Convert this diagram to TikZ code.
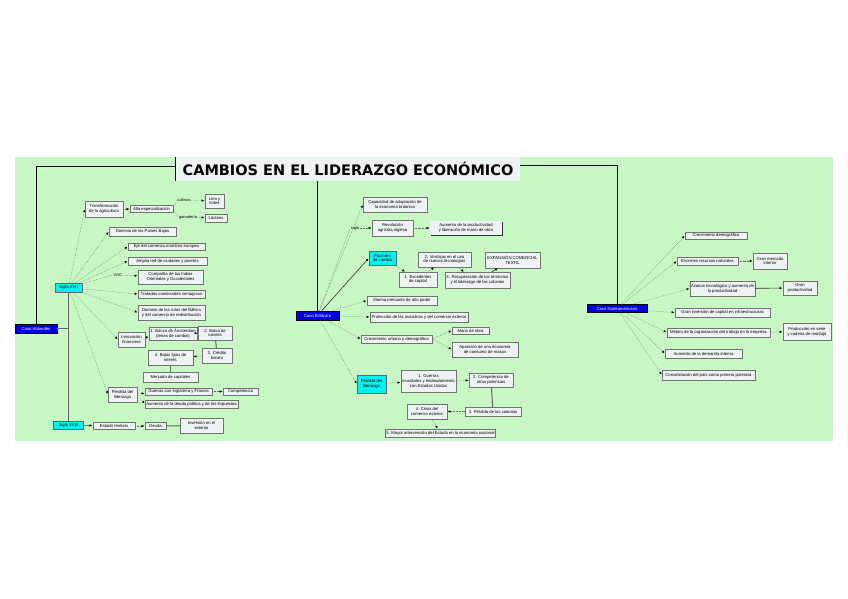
\documentclass[tikz,border=0pt]{standalone}
\usepackage{fontspec}
\setmainfont{Liberation Sans}
\setsansfont{Liberation Sans}
\newfontfamily\titlefont{DejaVu Sans}
\usepackage{tikz}
\usetikzlibrary{arrows.meta,positioning,shadows}
\definecolor{mapBg}{HTML}{C8F8C4}
\definecolor{topicFill}{HTML}{EEF3F4}
\definecolor{casoFill}{HTML}{0000E0}
\definecolor{sigloFill}{HTML}{00F2F2}
\definecolor{linkGray}{HTML}{66706A}
\tikzset{
  topic/.style={
    rectangle, fill=topicFill, draw=black!55, line width=0.3pt,
    drop shadow={shadow xshift=0.6pt,shadow yshift=-0.6pt,fill=black!80,opacity=1},
    align=center, font=\fontsize{4.2}{4.8}\selectfont,
    inner sep=1pt
  },
  caso/.style={topic, fill=casoFill, text=white, draw=black, line width=0.6pt},
  siglo/.style={topic, fill=sigloFill, draw=black!60},
  tag/.style={font=\fontsize{4}{4.6}\selectfont, inner sep=0.5pt},
  link/.style={densely dotted, draw=linkGray, line width=0.45pt, shorten >=0.8pt,
    -{Triangle[length=2.4pt,width=2.2pt,color=black]}},
  bond/.style={link, solid, draw=black!80, line width=0.6pt},
  stem/.style={draw=black!60, line width=1pt},
  trunk/.style={draw=black, line width=0.9pt}
}

\begin{document}
\begin{tikzpicture}[x=1pt,y=-1pt]
  \useasboundingbox (0,0) rectangle (848,599);
  \fill[white] (0,0) rectangle (848,599);
  \fill[mapBg] (15,157) rectangle (833,441);

  % title
  \node[fill=topicFill, minimum width=344, minimum height=24, inner sep=0pt,
        font=\titlefont\bfseries\fontsize{14.5}{16}\selectfont]
        (title) at (348,169) {CAMBIOS EN EL LIDERAZGO ECONÓMICO};
  \draw[trunk] (title.north west) -- (title.south west);

  % ---------------- caso holandes -- left
  \node[caso, minimum width=42, minimum height=9] (hol) at (36,328.5) {Caso Holandés};
  \node[siglo, minimum width=27, minimum height=9] (s17) at (68.5,287.5) {Siglo XVII};
  \node[siglo, minimum width=30, minimum height=8] (s18) at (68.5,425) {Siglo XVIII};

  \node[topic, minimum width=38, minimum height=16] (agri) at (104,209) {Transformación\\de la agricultura};
  \node[topic, minimum width=43, minimum height=7] (espe) at (151.5,209) {Alta especialización};
  \node[tag] (tcul) at (184,200) {cultivos};
  \node[tag] (tgan) at (188,217) {ganadería};
  \node[topic, minimum width=19, minimum height=14] (lino) at (214.5,201) {Lino y\\tintes};
  \node[topic, minimum width=22, minimum height=8] (lact) at (216,218) {Lácteos};
  \node[topic, minimum width=67, minimum height=9] (bajo) at (142.5,231.5) {Dominio de los Países Bajos};
  \node[topic, minimum width=77, minimum height=7] (ejec) at (166.5,246.5) {Eje del comercio marítimo europeo};
  \node[topic, minimum width=79, minimum height=8] (redc) at (167.5,261) {Amplia red de ciudades y puertos};
  \node[tag] (tvoc) at (118,275) {VOC};
  \node[topic, minimum width=65, minimum height=14] (cind) at (170.5,277) {Compañía de las Indias\\Orientales y Occidentales};
  \node[topic, minimum width=67, minimum height=8] (trat) at (171.5,294) {Tratados comerciales ventajosos};
  \node[topic, minimum width=67, minimum height=15] (balt) at (171.5,312.5) {Dominio de las rutas del Báltico\\y del comercio de redistribución};
  \node[topic, minimum width=27, minimum height=15] (finz) at (131.5,339.5) {Innovación\\financiera};
  \node[topic, minimum width=40, minimum height=13] (banc) at (173,333.5) {1. Banco de Ámsterdam\\(letras de cambio)};
  \node[topic, minimum width=34, minimum height=14] (bols) at (215,333) {2. Bolsa de\\valores};
  \node[topic, minimum width=30, minimum height=15] (cred) at (217,355.5) {3. Crédito\\barato};
  \node[topic, minimum width=45, minimum height=15] (tipo) at (170.5,357.5) {4. Bajos tipos de\\interés};
  \node[topic, minimum width=55, minimum height=10] (merc) at (170.5,377) {Mercado de capitales};
  \node[topic, minimum width=29, minimum height=15] (perh) at (122.5,394.5) {Pérdida del\\liderazgo};
  \node[topic, minimum width=67, minimum height=7] (guer) at (178.5,391.5) {Guerras con Inglaterra y Francia};
  \node[topic, minimum width=35, minimum height=7] (comp) at (240.5,391.5) {Competencia};
  \node[topic, minimum width=93, minimum height=8] (deud) at (191.5,404) {Aumento de la deuda pública y de los impuestos};
  \node[topic, minimum width=42, minimum height=7] (rent) at (114,426) {Estado rentista};
  \node[topic, minimum width=21, minimum height=7] (deda) at (155.5,426) {Deuda};
  \node[topic, minimum width=43, minimum height=15] (inve) at (201.5,425.5) {Inversión en el\\exterior};

  \draw[trunk] ([yshift=3pt]title.west) -| (hol.north);
  \draw[stem] (hol.east) -| (s17.south);
  \draw[stem] (s17.south) -- (s18.north);
  \foreach \t in {agri,bajo,ejec,redc,trat,balt,finz,perh}
    \draw[link] (s17) -- (\t.west);
  \draw[link,-] (s17) -- (tvoc.west);
  \draw[link] (tvoc) -- (cind);
  \draw[link] (agri) -- (espe);
  \draw[link,-] (espe.east) -- (tcul.west);
  \draw[link,-] (espe.east) -- (tgan.west);
  \draw[link] (tcul) -- (lino);
  \draw[link] (tgan) -- (lact);
  \draw[link] (finz) -- (banc);
  \draw[link] (banc) -- (bols);
  \draw[stem] (bols) -- (cred);
  \draw[link] (cred) -- (tipo);
  \draw[stem] (tipo) -- (merc);
  \draw[link] (perh) -- (guer);
  \draw[link] (guer) -- (comp);
  \draw[link] (perh.east) -- (deud.west);
  \draw[bond] (s18) -- (rent);
  \draw[link] (rent) -- (deda);
  \draw[stem] (deda) -- (inve);

  % ---------------- caso britanico -- middle
  \node[caso, minimum width=43, minimum height=9] (bri) at (317.5,315.5) {Caso Británico};
  \node[topic, minimum width=64, minimum height=15] (adap) at (395,204.5) {Capacidad de adaptación de\\la economía británica};
  \node[tag] (tsig) at (355,228) {siglo};
  \node[topic, minimum width=41, minimum height=16] (ragr) at (392.5,228) {Revolución\\agrícola inglesa};
  \node[topic, minimum width=72, minimum height=14, draw=none] (prod) at (466,228) {Aumento de la productividad\\y liberación de mano de obra};
  \node[siglo, minimum width=27, minimum height=14] (fact) at (382.5,258) {Factores\\de cambio};
  \node[topic, minimum width=38, minimum height=15] (exce) at (418,279.5) {1. Excedentes\\de capital};
  \node[topic, minimum width=53, minimum height=15] (vent) at (444.5,259.5) {2. Ventajas en el uso\\de nuevas tecnologías};
  \node[topic, minimum width=65, minimum height=16] (recu) at (477.5,280) {3. Recuperación de los territorios\\y el liderazgo de las colonias};
  \node[topic, minimum width=55, minimum height=16] (expa) at (512.5,260) {EXPANSIÓN COMERCIAL\\TEXTIL};
  \node[topic, minimum width=70, minimum height=9] (mari) at (402,300.5) {Marina mercante de alto poder};
  \node[topic, minimum width=98, minimum height=10] (prot) at (419,317) {Protección de las industrias y del comercio exterior};
  \node[topic, minimum width=71, minimum height=8] (urba) at (396.5,339) {Crecimiento urbano y demográfico};
  \node[topic, minimum width=37, minimum height=7] (mano) at (470.5,330.5) {Mano de obra};
  \node[topic, minimum width=66, minimum height=15] (cons) at (485,349.5) {Aparición de una economía\\de consumo de masas};
  \node[siglo, minimum width=29, minimum height=18] (perb) at (371.5,384) {Pérdida del\\liderazgo};
  \node[topic, minimum width=55, minimum height=22] (gmun) at (428.5,381) {1. Guerras\\mundiales y endeudamiento\\con Estados Unidos};
  \node[topic, minimum width=44, minimum height=14] (otra) at (491,380) {2. Competencia de\\otras potencias};
  \node[topic, minimum width=56, minimum height=9] (colo) at (493,411.5) {3. Pérdida de las colonias};
  \node[topic, minimum width=40, minimum height=15] (crex) at (427,411.5) {4. Crisis del\\comercio exterior};
  \node[topic, minimum width=109, minimum height=8] (esta) at (440.5,433) {5. Mayor intervención del Estado en la economía nacional};

  \draw[trunk] (title.south -| bri.north) -- (bri.north);
  \foreach \t in {adap,mari,prot,urba,perb}
    \draw[link] (bri) -- (\t.west);
  \draw[link,-] (bri) -- (tsig.west);
  \draw[link] (tsig) -- (ragr);
  \draw[link] (ragr) -- (prod);
  \draw[bond] (bri) -- (fact.west);
  \draw[link] (fact) -- (exce);
  \draw[link] (exce) -- (vent);
  \draw[link] (vent) -- (recu);
  \draw[bond] (recu) -- (expa);
  \draw[link] (urba.east) -- (mano.west);
  \draw[link] (urba.east) -- (cons.west);
  \draw[link] (perb) -- (gmun);
  \draw[link] (gmun) -- (otra);
  \draw[stem] (otra) -- (colo);
  \draw[link] (colo) -- (crex);
  \draw[link] (crex) -- (esta);

  % ---------------- caso norteamericano -- right
  \node[caso, minimum width=60, minimum height=8] (nor) at (617,308.5) {Caso Norteamericano};
  \node[topic, minimum width=62, minimum height=7] (demo) at (716,235.5) {Crecimiento demográfico};
  \node[topic, minimum width=61, minimum height=8] (recn) at (707.5,261) {Enormes recursos naturales};
  \node[topic, minimum width=34, minimum height=16] (mint) at (770,261) {Gran mercado\\interior};
  \node[topic, minimum width=65, minimum height=15] (tecn) at (722.5,288.5) {Avance tecnológico y aumento de\\la productividad};
  \node[topic, minimum width=34, minimum height=14] (gpro) at (800,288) {Gran\\productividad};
  \node[topic, minimum width=95, minimum height=9] (capi) at (722.5,312.5) {Gran inversión de capital en infraestructuras};
  \node[topic, minimum width=103, minimum height=9] (orga) at (718.5,332.5) {Mejora de la organización del trabajo en la empresa};
  \node[topic, minimum width=48, minimum height=17] (seri) at (807,331.5) {Producción en serie\\y cadena de montaje};
  \node[topic, minimum width=77, minimum height=9] (dema) at (703.5,353.5) {Aumento de la demanda interna};
  \node[topic, minimum width=93, minimum height=10] (pote) at (708.5,375) {Consolidación del país como primera potencia};

  \draw[trunk] ([yshift=4pt]title.east) -| (nor.north);
  \foreach \t in {demo,recn,tecn,capi,orga,dema,pote}
    \draw[link] (nor) -- (\t.west);
  \draw[link] (recn) -- (mint);
  \draw[bond] (tecn) -- (gpro);
  \draw[link] (orga) -- (seri);
\end{tikzpicture}
\end{document}
